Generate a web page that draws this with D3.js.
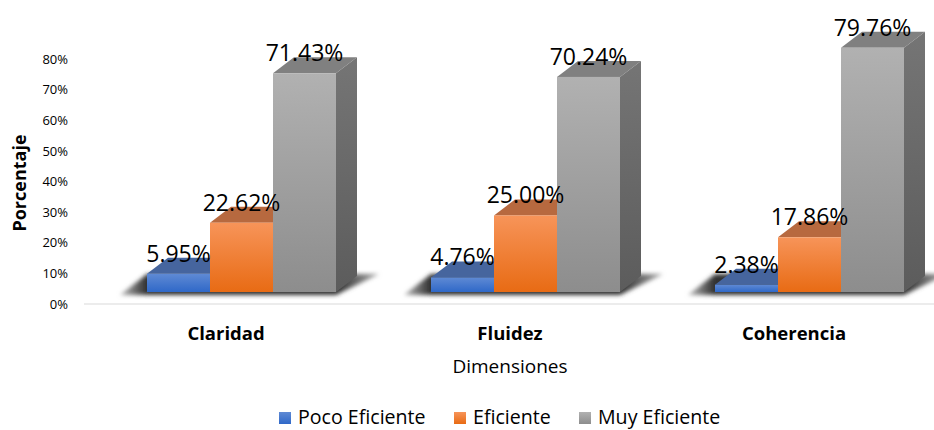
<!DOCTYPE html>
<html>
<head>
<meta charset="utf-8">
<script src="https://cdn.jsdelivr.net/npm/d3@7"></script>
<style>
	body { margin: 0; background: #fff; }
	text { font-family: "Open Sans", sans-serif; fill: #000; }
</style>
</head>
<body>
<div id="chart"></div>
<script>
const categories = ["Claridad", "Fluidez", "Coherencia"];
const seriesNames = ["Poco Eficiente", "Eficiente", "Muy Eficiente"];
const pocoEficiente = [5.95, 4.76, 2.38];
const eficiente = [22.62, 25.0, 17.86];
const muyEficiente = [71.43, 70.24, 79.76];
const yTicks = [0, 10, 20, 30, 40, 50, 60, 70, 80];

const seriesValues = [pocoEficiente, eficiente, muyEficiente];

// colours per series: gradient top, gradient bottom, top face, side face
const colors = [
	{ light: "#5f8ad4", dark: "#2f68c8", top: "#46659e", side: "#2f4f86" },
	{ light: "#f79459", dark: "#e86b14", top: "#b7693f", side: "#a04f1c" },
	{ light: "#b1b1b1", dark: "#8d8d8d", top: "#808080", side: "#6a6a6a" },
];

const width = 934,
	height = 430;
const depthX = 21,
	depthY = 16;
const floorOffset = 12; // bars stand above the axis line
const barShift = 15.5;

const svg = d3
	.select("#chart")
	.append("svg")
	.attr("width", width)
	.attr("height", height)
	.style("display", "block");

const defs = svg.append("defs");

colors.forEach(function (c, i) {
	const grad = defs
		.append("linearGradient")
		.attr("id", "front-" + i)
		.attr("x1", 0)
		.attr("y1", 0)
		.attr("x2", 0)
		.attr("y2", 1);
	grad.append("stop").attr("offset", "0%").attr("stop-color", c.light);
	grad.append("stop").attr("offset", "100%").attr("stop-color", c.dark);
});

const sideGrad = defs
	.append("linearGradient")
	.attr("id", "side-grey")
	.attr("x1", 0)
	.attr("y1", 0)
	.attr("x2", 0)
	.attr("y2", 1);
sideGrad.append("stop").attr("offset", "0%").attr("stop-color", "#757575");
sideGrad.append("stop").attr("offset", "100%").attr("stop-color", "#5c5c5c");

// shadow fades out towards both ends
const shadowGrad = defs
	.append("linearGradient")
	.attr("id", "shadow-fade")
	.attr("x1", 0)
	.attr("y1", 0)
	.attr("x2", 1)
	.attr("y2", 0);
shadowGrad.append("stop").attr("offset", "0%").attr("stop-color", "#bbb");
shadowGrad.append("stop").attr("offset", "10%").attr("stop-color", "#333");
shadowGrad.append("stop").attr("offset", "84%").attr("stop-color", "#333");
shadowGrad.append("stop").attr("offset", "100%").attr("stop-color", "#aaa");

defs
	.append("filter")
	.attr("id", "blur")
	.attr("x", "-10%")
	.attr("y", "-40%")
	.attr("width", "120%")
	.attr("height", "180%")
	.append("feGaussianBlur")
	.attr("stdDeviation", 2.2);

// SCALES
const x0 = d3.scaleBand().domain(categories).range([84, 936]);
const x1 = d3.scaleBand().domain(d3.range(3)).range([0, 189]);
const y = d3.scaleLinear().domain([0, 80]).range([304, 59]);

// Y AXIS
const yAxis = svg
	.append("g")
	.attr("transform", "translate(72,0)")
	.call(
		d3
			.axisLeft(y)
			.tickValues(yTicks)
			.tickSize(0)
			.tickFormat((d) => d + "%")
	);
yAxis.select(".domain").remove();
yAxis.selectAll("text").style("font-size", "13px").attr("x", -4);

// AXIS LINE
svg
	.append("line")
	.attr("x1", 84)
	.attr("x2", 934)
	.attr("y1", y(0))
	.attr("y2", y(0))
	.attr("stroke", "#d9d9d9");

// GROUPS
const groups = svg
	.selectAll(".group")
	.data(categories)
	.join("g")
	.attr("class", "group")
	.attr("transform", function (d) {
		return (
			"translate(" +
			(x0(d) + x0.bandwidth() / 2 + barShift - x1.range()[1] / 2) +
			",0)"
		);
	});

const base = y(0) - floorOffset;
const barTop = (v) => y(v) - floorOffset;

// SHADOW
groups
	.append("path")
	.attr("fill", "url(#shadow-fade)")
	.attr("filter", "url(#blur)")
	.attr("d", function () {
		const right = x1.range()[1];
		return d3.line()([
			[-27, base + 3],
			[right, base + 3],
			[right + 43, base - 18],
			[0, base - 18],
		]) + "Z";
	});

// BARS
groups.each(function (cat, ci) {
	const g = d3.select(this);
	seriesValues.forEach(function (values, si) {
		const v = values[ci];
		const left = x1(si),
			right = left + x1.bandwidth(),
			top = barTop(v);
		const bar = g.append("g");

		// top face
		bar
			.append("path")
			.attr("fill", colors[si].top)
			.attr(
				"d",
				d3.line()([
					[left, top],
					[left + depthX, top - depthY],
					[right + depthX, top - depthY],
					[right, top],
				]) + "Z"
			);

		// side face
		bar
			.append("path")
			.attr("fill", si === 2 ? "url(#side-grey)" : colors[si].side)
			.attr(
				"d",
				d3.line()([
					[right, top],
					[right + depthX, top - depthY],
					[right + depthX, base - depthY],
					[right, base],
				]) + "Z"
			);

		// front face
		bar
			.append("rect")
			.attr("x", left)
			.attr("y", top)
			.attr("width", x1.bandwidth())
			.attr("height", base - top)
			.attr("fill", "url(#front-" + si + ")");
	});

	// DATA LABELS (over the bars)
	seriesValues.forEach(function (values, si) {
		g.append("text")
			.attr("x", x1(si) + x1.bandwidth() / 2)
			.attr("y", barTop(values[ci]) - 12)
			.attr("text-anchor", "middle")
			.style("font-size", "23px")
			.text(values[ci].toFixed(2) + "%");
	});
});

// CATEGORY LABELS
svg
	.selectAll(".cat")
	.data(categories)
	.join("text")
	.attr("class", "cat")
	.attr("x", (d) => x0(d) + x0.bandwidth() / 2)
	.attr("y", 340)
	.attr("text-anchor", "middle")
	.style("font-size", "18.5px")
	.style("font-weight", "bold")
	.text((d) => d);

// AXIS TITLES
svg
	.append("text")
	.attr("x", 510)
	.attr("y", 373)
	.attr("text-anchor", "middle")
	.style("font-size", "19px")
	.text("Dimensiones");

svg
	.append("text")
	.attr("transform", "translate(26,183) rotate(-90)")
	.attr("text-anchor", "middle")
	.style("font-size", "18px")
	.style("font-weight", "bold")
	.text("Porcentaje");

// LEGEND
const legendSquareX = [279, 454, 579];
const legend = svg
	.selectAll(".legend")
	.data(seriesNames)
	.join("g")
	.attr("class", "legend")
	.attr("transform", (d, i) => "translate(" + legendSquareX[i] + ",412)");
legend
	.append("rect")
	.attr("width", 12)
	.attr("height", 12)
	.attr("fill", (d, i) => "url(#front-" + i + ")");
legend
	.append("text")
	.attr("x", 19)
	.attr("y", 12)
	.style("font-size", "19.6px")
	.text((d) => d);
</script>
</body>
</html>
